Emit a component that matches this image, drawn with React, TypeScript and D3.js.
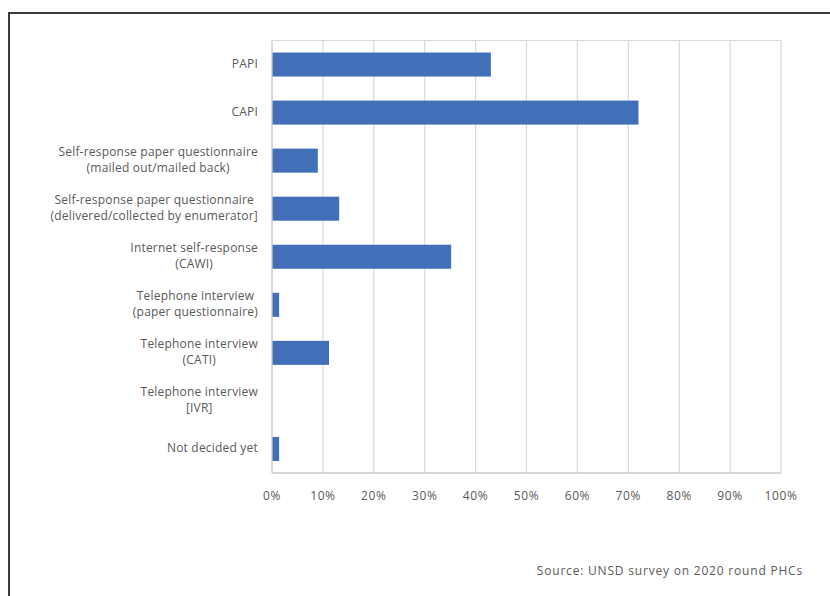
import React, { useEffect, useRef } from "react";
import * as d3 from "d3";

const categories: string[][] = [
  ["PAPI"],
  ["CAPI"],
  ["Self-response paper questionnaire", "(mailed out/mailed back)"],
  ["Self-response paper questionnaire", "(delivered/collected by enumerator]"],
  ["Internet self-response", "(CAWI)"],
  ["Telephone interview", "(paper questionnaire)"],
  ["Telephone interview", "(CATI)"],
  ["Telephone interview", "[IVR]"],
  ["Not decided yet"],
];
const values: number[] = [43, 72, 9, 13.2, 35.2, 1.4, 11.2, 0, 1.4];
const ticks: number[] = [0, 10, 20, 30, 40, 50, 60, 70, 80, 90, 100];
const sourceText = "Source: UNSD survey on 2020 round PHCs";

const W = 830;
const H = 596;
const FONT = "'Open Sans', 'DejaVu Sans', sans-serif";

export default function App() {
  const ref = useRef<SVGSVGElement>(null);
  useEffect(() => {
    const svg = d3.select(ref.current);
    svg.selectAll("*").remove();
    const left = 272, right = 781, top = 40.5, bottom = 473;
    const x = d3.scaleLinear().domain([0, 100]).range([left, right]);
    const y = d3
      .scaleBand<number>()
      .domain(d3.range(categories.length))
      .range([top, bottom])
      .paddingInner(0.5)
      .paddingOuter(0.25);

    svg.append("rect").attr("x", 0).attr("y", 0).attr("width", W).attr("height", H).attr("fill", "#fff");
    // outer frame
    svg.append("path")
      .attr("d", `M9,${H + 5} V13 H${W + 5}`)
      .attr("fill", "none").attr("stroke", "#3a3a3a").attr("stroke-width", 2);

    // gridlines
    svg.append("g").selectAll("line").data(ticks).join("line")
      .attr("x1", (d) => x(d)).attr("x2", (d) => x(d))
      .attr("y1", top).attr("y2", bottom)
      .attr("stroke", "#d9d9d9").attr("stroke-width", 1.2);
    svg.append("line").attr("x1", left).attr("x2", right).attr("y1", top).attr("y2", top)
      .attr("stroke", "#d9d9d9").attr("stroke-width", 1.2);

    // bars
    svg.append("g").selectAll("rect").data(values).join("rect")
      .attr("x", x(0))
      .attr("y", (_d, i) => y(i)!)
      .attr("width", (d) => x(d) - x(0))
      .attr("height", y.bandwidth())
      .attr("fill", "#4170b8");

    // axes lines
    svg.append("line").attr("x1", left).attr("x2", left).attr("y1", top).attr("y2", bottom)
      .attr("stroke", "#d0d0d0").attr("stroke-width", 1.2);
    svg.append("line").attr("x1", left).attr("x2", right).attr("y1", bottom).attr("y2", bottom)
      .attr("stroke", "#c8c8c8").attr("stroke-width", 1.5);

    // tick labels
    svg.append("g").selectAll("text").data(ticks).join("text")
      .attr("x", (d) => x(d)).attr("y", 497)
      .attr("text-anchor", "middle").attr("dominant-baseline", "middle")
      .attr("font-family", FONT).attr("font-size", 12).attr("letter-spacing", 0.6)
      .attr("fill", "#595959")
      .text((d) => `${d}%`);

    // category labels (centered block, right aligned)
    const labelRight = 258;
    const lineH = 16;
    categories.forEach((lines, i) => {
      const cy = y(i)! + y.bandwidth() / 2;
      const g = svg.append("g");
      const texts = lines.map((ln, j) =>
        g.append("text")
          .attr("y", cy + (j - (lines.length - 1) / 2) * lineH)
          .attr("dominant-baseline", "middle")
          .attr("text-anchor", "middle")
          .attr("font-family", FONT).attr("font-size", 12).attr("letter-spacing", 0.2)
          .attr("fill", "#595959")
          .text(ln)
      );
      const widths = texts.map((t) => (t.node() as SVGTextElement).getComputedTextLength());
      const maxW = Math.max(...widths);
      texts.forEach((t) => t.attr("x", labelRight - maxW / 2));
    });

    svg.append("text").attr("x", 803).attr("y", 572)
      .attr("text-anchor", "end").attr("dominant-baseline", "middle")
      .attr("font-family", FONT).attr("font-size", 12).attr("letter-spacing", 0.8)
      .attr("fill", "#595959")
      .text(sourceText);
  }, []);
  return (
    <svg ref={ref} width={W} height={H} style={{ position: "absolute", left: 0, top: 0, display: "block" }} />
  );
}
